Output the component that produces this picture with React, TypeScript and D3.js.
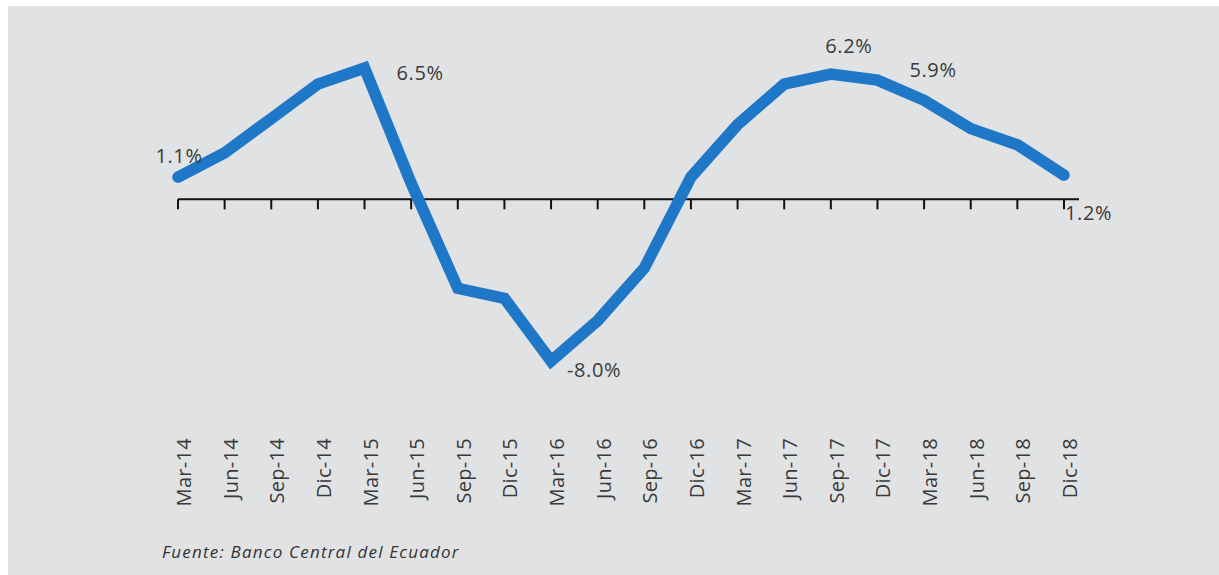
import React, { useEffect } from 'react';
import * as d3 from 'd3';

// trimestres y variación (%)
const trimestres = [
  'Mar-14', 'Jun-14', 'Sep-14', 'Dic-14', 'Mar-15', 'Jun-15', 'Sep-15', 'Dic-15',
  'Mar-16', 'Jun-16', 'Sep-16', 'Dic-16', 'Mar-17', 'Jun-17', 'Sep-17', 'Dic-17',
  'Mar-18', 'Jun-18', 'Sep-18', 'Dic-18',
];
const variacion = [
  1.1, 2.3, 4.0, 5.7, 6.5, 0.8, -4.4, -4.9,
  -8.0, -6.0, -3.4, 1.1, 3.7, 5.7, 6.2, 5.9,
  4.9, 3.5, 2.7, 1.2,
];
// puntos con etiqueta
const etiquetados = ['Mar-14', 'Mar-15', 'Mar-16', 'Sep-17', 'Dic-17', 'Dic-18'];
const fuente = 'Fuente: Banco Central del Ecuador';

const ancho = 1219;
const alto = 575;
const azul = '#1f77c7';
const fondo = '#e1e2e4';
const texto = '#3a3a3a';
const fam = '"Open Sans", sans-serif';

// desplazamiento de cada etiqueta respecto a su punto
const ajustes = {
  'Mar-14': { dx: 1, dy: -14, anchor: 'middle' },
  'Mar-15': { dx: 32, dy: 12, anchor: 'start' },
  'Mar-16': { dx: 16, dy: 16, anchor: 'start' },
  'Sep-17': { dx: 18, dy: -21, anchor: 'middle' },
  'Dic-17': { dx: 32, dy: -3, anchor: 'start' },
  'Dic-18': { dx: 1, dy: 45, anchor: 'start' },
};

export default function App() {
  useEffect(() => {
    document.body.style.margin = '0';
  }, []);

  const x = d3.scalePoint<string>().domain(trimestres).range([178, 1064]);
  const y = d3.scaleLinear().domain([-8, 6.5]).range([361, 68]);
  const y0 = y(0);

  const datos = trimestres.map((t, i) => ({ t, v: variacion[i] }));
  const linea = d3.line<{ t: string; v: number }>()
    .x(d => x(d.t) as number)
    .y(d => y(d.v));

  const xFin = x(trimestres[trimestres.length - 1]) as number;

  return (
    <svg width={ancho} height={alto} style={{ display: 'block', background: '#fff' }}>
      <rect x={8} y={6} width={ancho - 8} height={alto - 6} fill={fondo} />

      {/* eje */}
      <line x1={x(trimestres[0])} x2={xFin + 15} y1={y0} y2={y0} stroke="#111" strokeWidth={2} />
      {trimestres.map(t => (
        <line key={t} x1={x(t)} x2={x(t)} y1={y0} y2={y0 + 10} stroke="#111" strokeWidth={2} />
      ))}

      <path
        d={linea(datos) || ''}
        fill="none"
        stroke={azul}
        strokeWidth={11.5}
        strokeLinecap="round"
        strokeLinejoin="miter"
      />

      {datos.filter(d => etiquetados.includes(d.t)).map(d => {
        const a = ajustes[d.t];
        return (
          <text
            key={d.t}
            x={(x(d.t) as number) + a.dx}
            y={y(d.v) + a.dy}
            textAnchor={a.anchor}
            fontFamily={fam}
            fontSize={20}
            letterSpacing={0.6}
            fill={texto}
          >
            {d.v.toFixed(1) + '%'}
          </text>
        );
      })}

      {trimestres.map(t => (
        <text
          key={t}
          transform={`translate(${(x(t) as number) + 6}, 438) rotate(-90)`}
          textAnchor="end"
          dy="0.35em"
          fontFamily={fam}
          fontSize={20}
          letterSpacing={0.3}
          fill={texto}
        >
          {t}
        </text>
      ))}

      <text
        x={162}
        y={558}
        fontFamily={fam}
        fontStyle="italic"
        fontSize={17}
        letterSpacing={1.2}
        fill="#333"
      >
        {fuente}
      </text>
    </svg>
  );
}
